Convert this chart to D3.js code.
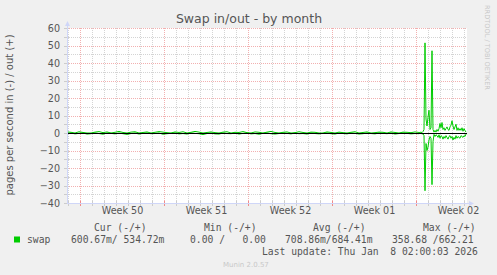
<!DOCTYPE html>
<html>
<head>
<meta charset="utf-8">
<style>
    body { margin: 0; background: #f0f0f0; }
    svg { display: block; }
    text { fill: #555; }
    .sans { font-family: "DejaVu Sans", sans-serif; }
    .mono { font-family: "DejaVu Sans Mono", monospace; font-size: 9.7px; white-space: pre; }
</style>
</head>
<body>
    <div class="graph"></div>

    <script src="https://d3js.org/d3.v7.min.js"></script>
    <script>
        // graph window: 400 rrd rows of 2 hours
        var graphStart = new Date('2025-12-06T22:00:00Z'),
            graphEnd = new Date('2026-01-09T06:00:00Z')

        var weekStarts = ['2025-12-08', '2025-12-15', '2025-12-22', '2025-12-29', '2026-01-05']
        var weekLabels = ['Week 50', 'Week 51', 'Week 52', 'Week 01', 'Week 02']
        var yTicks = [60, 50, 40, 30, 20, 10, 0, -10, -20, -30, -40]

        // quiet part: one sample every 8 h from graph start (pages/s)
        var flatOut = [0.6, 0.4, 0, 0.7, 0.3, 0, 0, 0.5, 0.8, 0.2, 0.6, 0, 0.4, 0.9, 0.3, 0, 0.5, 0.7, 0, 0.3,
            0.6, 0, 0.4, 0.8, 0.5, 0.2, 0, 0.6, 0.3, 0.7, 0, 0.4, 0.9, 0.5, 0, 0.3, 0.6, 0.2, 0, 0.5,
            0.7, 0, 0.4, 0.3, 0.8, 0.2, 0, 0.6, 0.4, 0, 0.5, 0.9, 0.3, 0, 0.4, 0.6, 0, 0.2, 0.7, 0.3,
            0, 0.5, 0.4, 0, 0, 0.6, 0.3, 0, 0.5, 0.2, 0, 0.4, 0.7, 0, 0.3, 0.6, 0, 0.2, 0.5, 0.4,
            0, 0.6, 0.3, 0, 0.5, 0.4, 0.2, 0.6, 0.3]
        var flatIn = [0.3, 0, 0.5, 0.2, 0, 0.6, 0.4, 0, 0.3, 0.7, 0, 0.2, 0.5, 0, 0.4, 0.8, 0.3, 0, 0.6, 0.2,
            0, 0.4, 0.3, 0, 0.7, 0.4, 0.2, 0, 0.5, 0.3, 0.6, 0, 0.2, 0.4, 0.9, 0.3, 0, 0.5, 0.6, 0,
            0.3, 0.4, 0, 0.6, 0.2, 0, 0.5, 0.3, 0.7, 0.2, 0, 0.4, 0.6, 0.3, 0, 0.2, 0.5, 0, 0.4, 0.3,
            0.6, 0, 0.3, 0.5, 0.2, 0, 0.4, 0.6, 0, 0.3, 0.5, 0, 0.2, 0.6, 0.4, 0, 0.3, 0.5, 0, 0.2,
            0.4, 0, 0.6, 0.3, 0, 0.2, 0.5, 0.3, 0.4]

        // busy part: one sample every 2 h from hour 706
        var tailOut = [0.3, 0.5, 0.2, 0.8, 2, 51.5, 8, 4, 9, 13, 2, 3, 47, 2, 0.5, 1.5, 0.5, 2, 1, 2.5,
            5.5, 3, 6, 2, 3, 1.5, 2.5, 3.5, 2, 1.5, 3.5, 4.5, 7, 4, 2, 3.5, 5, 1.5, 3, 1.5,
            2.5, 1.5, 3, 1, 2.5, 1.5, 0.5]
        var tailIn = [0.2, 0.3, 0.4, 0.5, 1.5, 33, 6, 10, 8, 4, 2, 3, 29.5, 5, 0.8, 2, 1, 1.5, 2.5, 1,
            3, 1.5, 2, 3.5, 2, 3, 1.5, 2.5, 3.5, 2, 1.5, 3, 2, 4, 2.5, 3.5, 1.5, 3, 2, 2.5,
            3, 1.5, 2, 2.5, 1.5, 2, 0.6]

        var legendHead = ['Cur (-/+)', 'Min (-/+)', 'Avg (-/+)', 'Max (-/+)']
        var legendVals = ['600.67m/ 534.72m', '0.00 /   0.00', '708.86m/684.41m', '358.68 /662.21']

        var width = 497,
            height = 275

        var x = d3.scaleUtc()
            .domain([graphStart, graphEnd])
            .range([67, 467])

        var y = d3.scaleLinear()
            .domain([-40, 60])
            .range([203, 28])

        function series(flat, tail) {
            var pts = flat.map(function (v, i) {
                return { t: d3.utcHour.offset(graphStart, i * 8), v: v }
            })
            return pts.concat(tail.map(function (v, i) {
                return { t: d3.utcHour.offset(graphStart, 706 + i * 2), v: v }
            }))
        }
        var outData = series(flatOut, tailOut)
        var inData = series(flatIn, tailIn).map(function (d) { return { t: d.t, v: -d.v } })

        var svg = d3.select('.graph').append('svg')
            .attr('width', width)
            .attr('height', height)

        svg.append('rect')
            .attr('x', 67).attr('y', 28)
            .attr('width', 400).attr('height', 175)
            .attr('fill', '#fff')

        // minor grid
        var days = d3.utcDay.range(graphStart, graphEnd)
        var minorY = d3.range(-40, 61, 5)
        var grid = svg.append('g').attr('stroke-dasharray', '1,1').attr('shape-rendering', 'crispEdges')
        grid.selectAll('.vd').data(days).enter().append('line')
            .attr('x1', function (d) { return Math.round(x(d)) + 0.5 })
            .attr('x2', function (d) { return Math.round(x(d)) + 0.5 })
            .attr('y1', 28).attr('y2', 203)
            .attr('stroke', '#d4d4d4')
        grid.selectAll('.hm').data(minorY).enter().append('line')
            .attr('x1', 67).attr('x2', 467)
            .attr('y1', function (d) { return Math.round(y(d)) + 0.5 })
            .attr('y2', function (d) { return Math.round(y(d)) + 0.5 })
            .attr('stroke', '#d4d4d4')

        // major grid
        var weeks = weekStarts.map(function (s) { return new Date(s + 'T00:00:00Z') })
        grid.selectAll('.vw').data(weeks).enter().append('line')
            .attr('x1', function (d) { return Math.round(x(d)) + 0.5 })
            .attr('x2', function (d) { return Math.round(x(d)) + 0.5 })
            .attr('y1', 28).attr('y2', 203)
            .attr('stroke', '#f2b0b0')
        grid.selectAll('.hy').data(yTicks).enter().append('line')
            .attr('x1', 67).attr('x2', 467)
            .attr('y1', function (d) { return Math.round(y(d)) + 0.5 })
            .attr('y2', function (d) { return Math.round(y(d)) + 0.5 })
            .attr('stroke', '#f2b0b0')

        // tick marks on the axes
        var ticks = svg.append('g').attr('shape-rendering', 'crispEdges')
        ticks.selectAll('.td').data(days).enter().append('line')
            .attr('x1', function (d) { return Math.round(x(d)) + 0.5 })
            .attr('x2', function (d) { return Math.round(x(d)) + 0.5 })
            .attr('y1', 201).attr('y2', 206)
            .attr('stroke', '#cccccc')
        ticks.selectAll('.tw').data(weeks).enter().append('line')
            .attr('x1', function (d) { return Math.round(x(d)) + 0.5 })
            .attr('x2', function (d) { return Math.round(x(d)) + 0.5 })
            .attr('y1', 201).attr('y2', 206)
            .attr('stroke', '#f08a8a')
        ticks.selectAll('.ty').data(minorY).enter().append('line')
            .attr('x1', 64).attr('x2', 69)
            .attr('y1', function (d) { return Math.round(y(d)) + 0.5 })
            .attr('y2', function (d) { return Math.round(y(d)) + 0.5 })
            .attr('stroke', '#cccccc')

        // data
        var line = d3.line()
            .x(function (d) { return x(d.t) })
            .y(function (d) { return y(d.v) })

        svg.append('path').datum(outData)
            .attr('d', line).attr('fill', 'none').attr('stroke', '#00cc00').attr('stroke-width', 1)
        svg.append('path').datum(inData)
            .attr('d', line).attr('fill', 'none').attr('stroke', '#00cc00').attr('stroke-width', 1)

        svg.append('line')
            .attr('x1', 67).attr('x2', 467)
            .attr('y1', Math.round(y(0)) + 0.5).attr('y2', Math.round(y(0)) + 0.5)
            .attr('stroke', '#000').attr('shape-rendering', 'crispEdges')

        // axes
        var axisCol = '#cfd6f8'
        svg.append('line').attr('x1', 67.5).attr('x2', 67.5).attr('y1', 203).attr('y2', 24)
            .attr('stroke', axisCol)
        svg.append('line').attr('x1', 67).attr('x2', 470).attr('y1', 203.5).attr('y2', 203.5)
            .attr('stroke', axisCol)
        svg.append('path').attr('d', 'M65,26L67.5,21L70,26Z').attr('fill', axisCol)
        svg.append('path').attr('d', 'M469,201L474,203.5L469,206Z').attr('fill', axisCol)

        var yAxis = svg.append('g')
            .attr('transform', 'translate(67,0)')
            .call(d3.axisLeft(y).tickValues(yTicks).tickSize(0).tickPadding(7))
        yAxis.select('.domain').remove()
        yAxis.selectAll('text').attr('font-size', '9.6px').attr('fill', '#555').attr('font-family', 'DejaVu Sans')

        var mids = weeks.map(function (d) { return d3.utcHour.offset(d, 84) })
        var xAxis = svg.append('g')
            .attr('transform', 'translate(0,203)')
            .call(d3.axisBottom(x).tickValues(mids).tickSize(0).tickPadding(4)
                .tickFormat(function (d, i) { return weekLabels[i] }))
        xAxis.select('.domain').remove()
        xAxis.selectAll('text').attr('font-size', '9.6px').attr('fill', '#555').attr('font-family', 'DejaVu Sans')

        // titles
        svg.append('text').attr('class', 'sans')
            .attr('x', 249).attr('y', 23)
            .attr('text-anchor', 'middle').attr('font-size', '12.5px')
            .text('Swap in/out - by month')

        svg.append('text').attr('class', 'sans')
            .attr('transform', 'translate(13,115) rotate(-90)')
            .attr('text-anchor', 'middle').attr('font-size', '10px')
            .text('pages per second in (-) / out (+)')

        svg.append('text').attr('class', 'sans')
            .attr('transform', 'translate(485,5) rotate(90)')
            .attr('font-size', '6.6px').style('fill', '#c8c8c8')
            .text('RRDTOOL / TOBI OETIKER')

        // legend
        var headX = [94, 204, 313, 423],
            valX = [71, 190, 285, 392]
        svg.selectAll('.lh').data(legendHead).enter().append('text')
            .attr('class', 'mono')
            .attr('x', function (d, i) { return headX[i] }).attr('y', 231)
            .text(function (d) { return d })
        svg.selectAll('.lv').data(legendVals).enter().append('text')
            .attr('class', 'mono')
            .attr('x', function (d, i) { return valX[i] }).attr('y', 243)
            .text(function (d) { return d })

        svg.append('rect').attr('x', 14).attr('y', 236.5).attr('width', 6).attr('height', 6)
            .attr('fill', '#00cc00')
        svg.append('text').attr('class', 'mono').attr('x', 27).attr('y', 243).text('swap')

        svg.append('text').attr('class', 'mono').attr('x', 262).attr('y', 255)
            .text('Last update: Thu Jan  8 02:00:03 2026')

        svg.append('text').attr('class', 'sans')
            .attr('x', 223).attr('y', 267).attr('font-size', '7px').style('fill', '#c8c8c8')
            .text('Munin 2.0.57')
    </script>
</body>

</html>
